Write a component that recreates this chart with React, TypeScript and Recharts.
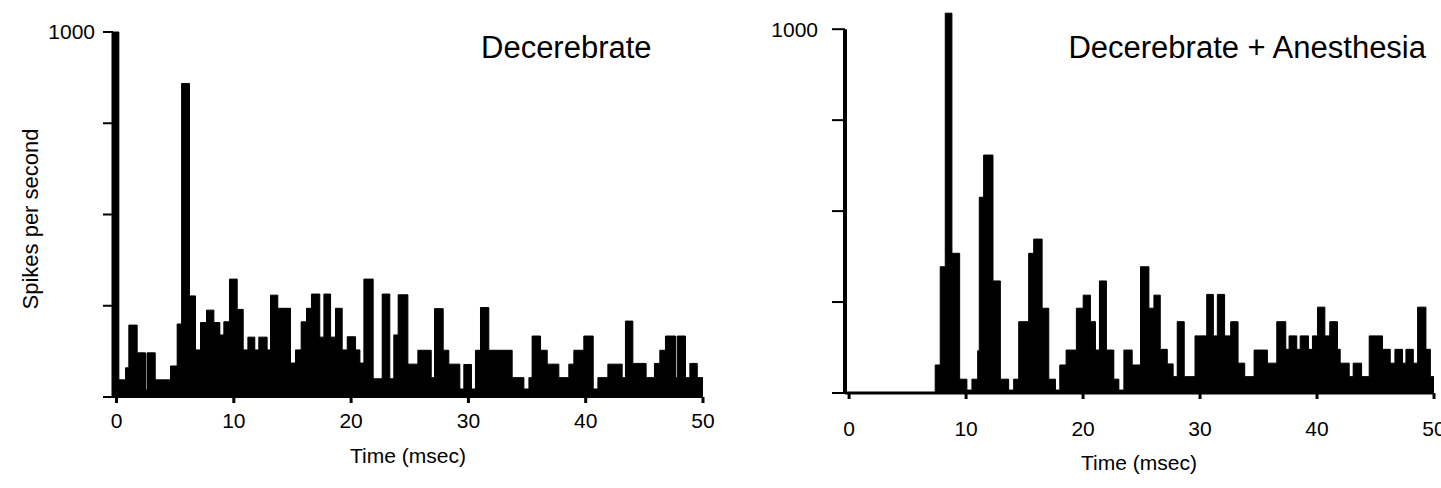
import { AreaChart, Area, XAxis, YAxis, ReferenceLine } from "recharts";

// bin edges (msec) where each histogram step starts, and the rate held until the next edge
const decerebrateEdges = [
  -0.3, 0.2, 0.77, 1.05, 1.76, 2.47, 2.6, 3.3, 4.6, 5.17, 5.55, 6.22, 6.73, 7.16, 7.67, 8.3, 8.81, 9.15,
  9.63, 10.29, 10.8, 11.2, 11.79, 12.13, 12.84, 13.13, 13.75, 14.83, 15.26, 15.74, 16.2, 16.62, 17.33,
  17.68, 18.25, 18.67, 19.24, 19.67, 20.38, 20.75, 21.09, 21.88, 22.65, 23.3, 23.64, 24.01, 24.84, 25.69,
  26.83, 27.11, 27.85, 28.33, 29.27, 29.61, 30.26, 30.6, 31.03, 31.74, 33.73, 34.73, 35.16, 35.43, 36.15,
  36.72, 37.71, 38.56, 38.99, 39.84, 40.64, 41.04, 41.89, 43.11, 43.39, 44.02, 45.15, 45.86, 46.32, 46.8,
  47.66, 47.8, 48.51, 48.88, 49.51, 50,
];
const decerebrateRates = [
  1000, 47, 80, 197, 121, 20, 121, 47, 85, 200, 859, 277, 129, 204, 238, 204, 170, 206,
  323, 240, 129, 164, 129, 164, 129, 279, 243, 93, 129, 206, 243, 282, 164,
  282, 164, 243, 129, 165, 129, 93, 323, 50, 282, 50, 170, 280, 90, 128,
  53, 242, 128, 90, 22, 89, 22, 128, 245, 128, 53, 22, 53, 167, 128,
  90, 53, 90, 128, 167, 22, 53, 90, 53, 208, 92, 53, 92, 128, 167,
  53, 167, 53, 92, 53, 53,
];

const anesthesiaEdges = [
  -0.35, 7.36, 7.79, 8.22, 8.79, 9.45, 10.07, 10.5, 10.99, 11.13, 11.5, 12.3, 12.93, 13.64, 14.07, 14.5,
  15.35, 15.78, 16.5, 17.07, 17.64, 18.01, 18.55, 19.43, 20.01, 20.63, 21.06, 21.4, 22.0, 22.63, 23.06,
  23.49, 24.2, 24.91, 25.63, 26.06, 26.6, 27.2, 27.7, 28.05, 28.65, 29.57, 30.57, 31.14, 31.48, 32.1,
  32.62, 33.25, 33.82, 34.62, 35.76, 36.56, 37.33, 37.61, 38.27, 38.56, 39.27, 39.61, 40.04, 40.67,
  41.09, 41.75, 41.98, 42.75, 43.09, 43.81, 44.46, 45.6, 46.26, 46.66, 47.31, 47.6, 48.23, 48.6, 49.31,
  49.69, 50,
];
const anesthesiaRates = [
  0, 77, 347, 1044, 384, 38, 8, 38, 116, 538, 654, 308, 38, 8, 38, 196,
  384, 423, 233, 38, 8, 77, 118, 233, 269, 196, 118, 308, 118, 38, 8,
  118, 77, 347, 233, 269, 120, 80, 45, 196, 45, 157, 271, 157, 271, 157,
  196, 82, 45, 118, 82, 196, 120, 157, 120, 157, 120, 157, 236, 157,
  196, 120, 82, 45, 82, 45, 157, 120, 82, 120, 82, 120, 82, 236, 120,
  45, 45,
];

const timeTicks = [0, 10, 20, 30, 40, 50];
const rateTicks = [0, 250, 500, 750, 1000];

const leftData = decerebrateEdges.map((t, i) => ({ t, rate: decerebrateRates[i] }));
const rightData = anesthesiaEdges.map((t, i) => ({ t, rate: anesthesiaRates[i] }));

const FONT = '"Liberation Sans", Arial, Helvetica, sans-serif';
const onlyTop = (v: number) => (v === 1000 ? "1000" : "");

export default function App() {
  return (
    <div
      style={{
        position: "absolute",
        left: 0,
        top: 0,
        width: 1441,
        height: 488,
        background: "#fff",
        fontFamily: FONT,
        overflow: "hidden",
      }}
    >
      <div style={{ position: "absolute", left: 0, top: 0 }}>
        <AreaChart width={720} height={488} data={leftData} margin={{ top: 32, right: 17, bottom: 51, left: 53 }}>
          <XAxis
            type="number"
            dataKey="t"
            domain={[-0.3, 50]}
            ticks={timeTicks}
            interval={0}
            height={40}
            tickSize={6}
            tickMargin={10}
            stroke="#000"
            axisLine={{ stroke: "#000", strokeWidth: 2 }}
            tickLine={{ stroke: "#000", strokeWidth: 3 }}
            tick={{ fill: "#000", fontSize: 21, fontFamily: FONT }}
          />
          <YAxis
            type="number"
            domain={[0, 1000]}
            ticks={rateTicks}
            interval={0}
            width={60}
            tickSize={10}
            tickMargin={8}
            tickFormatter={onlyTop}
            stroke="#000"
            axisLine={{ stroke: "#000", strokeWidth: 3 }}
            tickLine={{ stroke: "#000", strokeWidth: 2 }}
            tick={{ fill: "#000", fontSize: 21, fontFamily: FONT }}
          />
          <Area
            dataKey="rate"
            type="stepAfter"
            fill="#000"
            fillOpacity={1}
            stroke="#000"
            strokeWidth={1}
            isAnimationActive={false}
          />
        </AreaChart>
      </div>

      <div style={{ position: "absolute", left: 720, top: 0 }}>
        <AreaChart width={721} height={488} data={rightData} margin={{ top: 11, right: 7, bottom: 55, left: 65 }}>
          <XAxis
            type="number"
            dataKey="t"
            domain={[-0.35, 50]}
            ticks={timeTicks}
            interval={0}
            height={40}
            tickSize={6}
            tickMargin={22}
            stroke="#000"
            axisLine={{ stroke: "#000", strokeWidth: 3 }}
            tickLine={{ stroke: "#000", strokeWidth: 3 }}
            tick={{ fill: "#000", fontSize: 21, fontFamily: FONT }}
          />
          <YAxis
            type="number"
            domain={[0, 1050]}
            ticks={rateTicks}
            interval={0}
            width={60}
            tickSize={13}
            tickMargin={14}
            tickFormatter={onlyTop}
            stroke="#000"
            axisLine={false}
            tickLine={{ stroke: "#000", strokeWidth: 2 }}
            tick={{ fill: "#000", fontSize: 21, fontFamily: FONT }}
          />
          <ReferenceLine
            segment={[
              { x: -0.35, y: 0 },
              { x: -0.35, y: 1000 },
            ]}
            stroke="#000"
            strokeWidth={4}
          />
          <Area
            dataKey="rate"
            type="stepAfter"
            fill="#000"
            fillOpacity={1}
            stroke="#000"
            strokeWidth={1}
            isAnimationActive={false}
          />
        </AreaChart>
      </div>

      <svg
        width={1441}
        height={488}
        style={{ position: "absolute", left: 0, top: 0, pointerEvents: "none" }}
        fontFamily={FONT}
        fill="#000"
      >
        <text x={481} y={58} fontSize={31}>
          Decerebrate
        </text>
        <text x={1426} y={58} fontSize={31} textAnchor="end">
          Decerebrate + Anesthesia
        </text>
        <text transform="translate(38,219) rotate(-90)" textAnchor="middle" fontSize={22}>
          Spikes per second
        </text>
        <text x={408} y={463} textAnchor="middle" fontSize={21}>
          Time (msec)
        </text>
        <text x={1139} y={470} textAnchor="middle" fontSize={21}>
          Time (msec)
        </text>
      </svg>
    </div>
  );
}
